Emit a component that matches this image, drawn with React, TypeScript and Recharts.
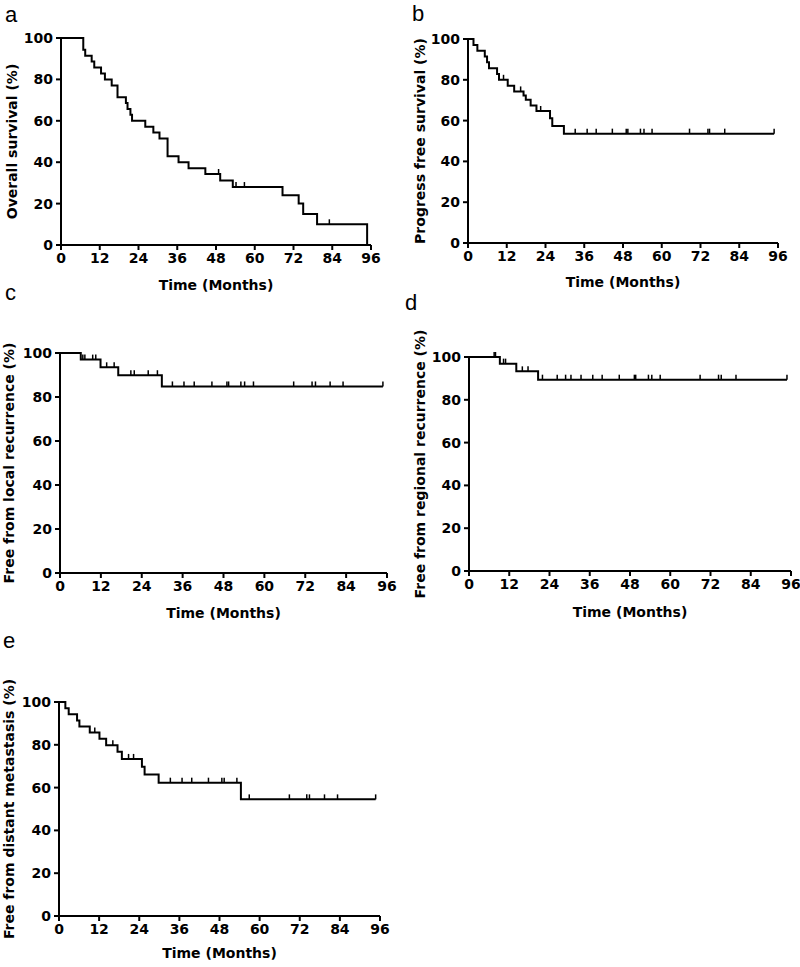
import React from "react";
import { LineChart, Line, XAxis, YAxis } from "recharts";

const monthTicks = [0, 12, 24, 36, 48, 60, 72, 84, 96];
const pctTicks = [0, 20, 40, 60, 80, 100];

// a: overall survival
const osEventTimes = [6.9, 7.5, 9.5, 10.3, 12.4, 13.6, 15.7, 17.5, 20.1, 20.6, 21.5, 22.0, 26.1, 28.6, 30.5, 33.0, 36.4, 39.5, 44.7, 49.3, 53.2, 68.6, 73.6, 75.0, 79.3, 94.8];
const osEventSurv = [94.3, 91.4, 88.6, 85.7, 82.9, 80.0, 77.1, 71.4, 68.6, 65.7, 62.9, 60.0, 57.1, 54.3, 51.4, 42.9, 40.0, 37.1, 34.3, 31.2, 28.0, 24.0, 20.0, 15.0, 10.0, 0];
const osCensored = [48.8, 54.2, 56.8, 83.1];

// b: progress free survival
const pfsEventTimes = [1.7, 2.9, 5.2, 5.9, 6.5, 9.0, 9.6, 12.3, 14.3, 17.2, 17.9, 19.4, 21.2, 25.4, 26.1, 29.7];
const pfsEventSurv = [97.1, 94.3, 91.4, 88.6, 85.7, 82.9, 80.0, 77.1, 74.3, 72.3, 70.2, 67.4, 64.7, 61.2, 57.3, 53.6];
const pfsCensored = [11.0, 16.3, 22.5, 33.2, 36.9, 39.7, 44.7, 49.0, 49.5, 53.4, 54.5, 57.0, 68.6, 74.3, 74.8, 79.5, 94.8];

// c: free from local recurrence
const lrEventTimes = [6.1, 11.9, 17.1, 29.9];
const lrEventSurv = [97.0, 93.5, 89.9, 84.8];
const lrCensored = [6.7, 7.3, 9.6, 10.5, 13.7, 15.9, 20.8, 21.8, 25.9, 28.6, 33.0, 36.4, 39.4, 44.6, 49.0, 49.5, 53.1, 54.2, 56.8, 68.6, 74.0, 75.0, 79.3, 83.1, 94.8];

// d: free from regional recurrence
const rrEventTimes = [9.2, 14.1, 20.6];
const rrEventSurv = [96.9, 93.3, 89.4];
const rrCensored = [7.5, 7.9, 10.3, 10.9, 15.9, 17.6, 21.9, 26.3, 28.8, 30.4, 33.4, 36.9, 39.7, 44.8, 49.3, 49.7, 53.5, 54.5, 57.0, 68.9, 74.4, 75.2, 79.6, 94.8];

// e: free from distant metastasis
const dmEventTimes = [1.9, 2.9, 5.4, 6.1, 9.2, 12.1, 14.1, 17.5, 18.8, 24.8, 25.6, 29.8, 54.4];
const dmEventSurv = [97.1, 94.3, 91.4, 88.6, 85.7, 82.8, 79.8, 76.7, 73.4, 69.8, 66.1, 62.3, 54.5];
const dmCensored = [10.7, 16.1, 20.8, 22.3, 33.3, 36.8, 39.7, 44.7, 48.7, 49.4, 53.2, 56.9, 68.9, 74.1, 74.9, 79.4, 83.3, 94.7];

type Pt = { t: number; s: number; c?: boolean };

function buildCurve(times: number[], surv: number[], censored: number[]): Pt[] {
  const pts: Pt[] = [{ t: 0, s: 100 }];
  times.forEach((t, i) => pts.push({ t, s: surv[i] }));
  censored.forEach((t) => {
    let s = 100;
    for (let i = 0; i < times.length; i++) if (times[i] <= t) s = surv[i];
    pts.push({ t, s, c: true });
  });
  return pts.sort((a, b) => a.t - b.t);
}

const FONT = "DejaVu Sans";

const CensorTick = (props: any) => {
  const { cx, cy, payload, index } = props;
  if (!payload || !payload.c) return <g key={`n${index}`} />;
  return <line key={`c${index}`} x1={cx} x2={cx} y1={cy} y2={cy - 5} stroke="#000" strokeWidth={1.5} />;
};

interface PanelProps {
  left: number;
  top: number;
  plot: { l: number; r: number; t: number; b: number };
  title: string;
  titleX: number;
  titleGap: number;
  data: Pt[];
}

function KmPanel({ left, top, plot, title, titleX, titleGap, data }: PanelProps) {
  const width = 400;
  const xAxisH = 55;
  const height = plot.b + xAxisH - top;
  const tickStyle = { fill: "#000", fontSize: 14, fontWeight: "bold", fontFamily: FONT };
  const labelStyle = { fill: "#000", fontSize: 14, fontWeight: "bold", fontFamily: FONT, textAnchor: "middle" as const };
  return (
    <div style={{ position: "absolute", left, top }}>
      <LineChart
        width={width}
        height={height}
        data={data}
        margin={{ top: plot.t - top, right: width - (plot.r - left), bottom: 0, left: 0 }}
      >
        <XAxis
          dataKey="t"
          type="number"
          domain={[0, 96]}
          ticks={monthTicks}
          height={xAxisH}
          tickSize={5}
          tickMargin={3}
          axisLine={{ stroke: "#000", strokeWidth: 2 }}
          tickLine={{ stroke: "#000", strokeWidth: 2 }}
          tick={tickStyle}
          label={{ value: "Time (Months)", position: "insideBottom", offset: xAxisH - titleGap, style: labelStyle }}
        />
        <YAxis
          type="number"
          domain={[0, 100]}
          ticks={pctTicks}
          width={plot.l - left}
          tickSize={5}
          tickMargin={3}
          axisLine={{ stroke: "#000", strokeWidth: 2 }}
          tickLine={{ stroke: "#000", strokeWidth: 2 }}
          tick={tickStyle}
          label={{ value: title, angle: -90, position: "insideLeft", offset: titleX - left, style: labelStyle }}
        />
        <Line
          type="stepAfter"
          dataKey="s"
          stroke="#000"
          strokeWidth={2}
          dot={CensorTick}
          activeDot={false}
          isAnimationActive={false}
        />
      </LineChart>
    </div>
  );
}

const letters = [
  { ch: "a", x: 5, y: 22 },
  { ch: "b", x: 412, y: 21 },
  { ch: "c", x: 5, y: 300 },
  { ch: "d", x: 405, y: 310 },
  { ch: "e", x: 3, y: 648 },
];

export default function App() {
  return (
    <div style={{ position: "absolute", left: 0, top: 0, width: 800, height: 967, background: "#fff" }}>
      <KmPanel
        left={0}
        top={0}
        plot={{ l: 61, r: 371, t: 38, b: 245 }}
        title="Overall survival (%)"
        titleX={12}
        titleGap={45}
        data={buildCurve(osEventTimes, osEventSurv, osCensored)}
      />
      <KmPanel
        left={400}
        top={0}
        plot={{ l: 468, r: 778, t: 39, b: 243 }}
        title="Progress free survival (%)"
        titleX={420}
        titleGap={44}
        data={buildCurve(pfsEventTimes, pfsEventSurv, pfsCensored)}
      />
      <KmPanel
        left={0}
        top={300}
        plot={{ l: 60, r: 387, t: 353, b: 573 }}
        title="Free from local recurrence (%)"
        titleX={9}
        titleGap={45}
        data={buildCurve(lrEventTimes, lrEventSurv, lrCensored)}
      />
      <KmPanel
        left={400}
        top={300}
        plot={{ l: 469, r: 791, t: 357, b: 571 }}
        title="Free from regional recurrence (%)"
        titleX={420}
        titleGap={46}
        data={buildCurve(rrEventTimes, rrEventSurv, rrCensored)}
      />
      <KmPanel
        left={0}
        top={630}
        plot={{ l: 59, r: 380, t: 702, b: 916 }}
        title="Free from distant metastasis (%)"
        titleX={9}
        titleGap={42}
        data={buildCurve(dmEventTimes, dmEventSurv, dmCensored)}
      />
      <svg width={800} height={967} style={{ position: "absolute", left: 0, top: 0, pointerEvents: "none" }}>
        {letters.map((l) => (
          <text key={l.ch} x={l.x} y={l.y} fontFamily="Liberation Sans" fontSize={22} fill="#000">
            {l.ch}
          </text>
        ))}
      </svg>
    </div>
  );
}
